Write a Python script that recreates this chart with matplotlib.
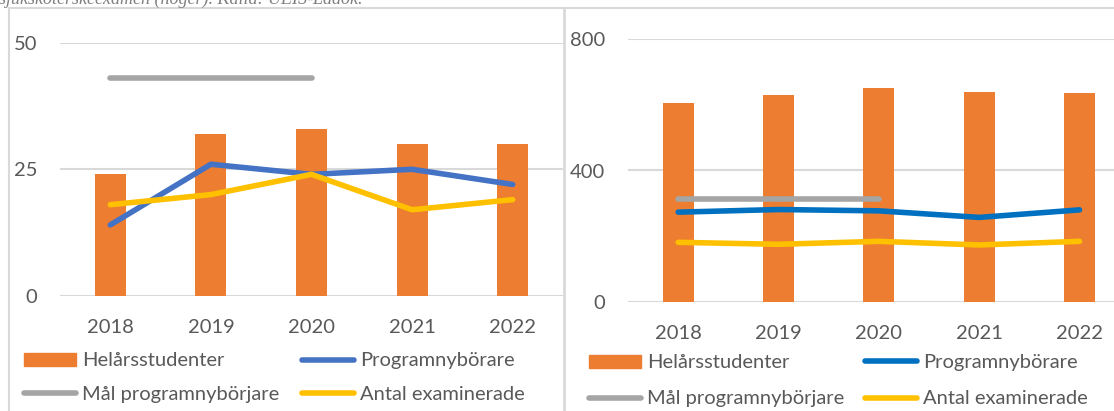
import numpy as np
import matplotlib.pyplot as plt
from matplotlib.lines import Line2D
from matplotlib.patches import Patch

plt.rcParams['font.family'] = ['Lato', 'DejaVu Sans']

# data
years = ['2018', '2019', '2020', '2021', '2022']

# left chart
left_hst = [24, 32, 33, 30, 30]
left_nyb = [14, 26, 24, 25, 22]
left_mal = [43, 43, 43, np.nan, np.nan]
left_exam = [18, 20, 24, 17, 19]
left_ticks = [0, 25, 50]

# right chart
right_hst = [606, 630, 652, 639, 636]
right_nyb = [273, 281, 277, 257, 280]
right_mal = [312, 312, 312, np.nan, np.nan]
right_exam = [181, 175, 184, 173, 184]
right_ticks = [0, 400, 800]

caption = 'sjuksköterskeexamen (höger). Källa: UEIS-Ladok.'

ORANGE = '#ED7D31'
GRAY = '#A5A5A5'
YELLOW = '#FFC000'
TXT = '#595959'
GRID = '#D9D9D9'
FS = 14.5

W, H = 1114, 411
fig = plt.figure(figsize=(W / 100, H / 100), dpi=100)


def px_axes(x0, x1, y_top, y_bot):
    return fig.add_axes([x0 / W, 1 - y_bot / H, (x1 - x0) / W, (y_bot - y_top) / H])


def draw_panel(ax, hst, nyb, mal, exam, ticks, blue):
    x = np.arange(len(years))
    ax.bar(x, hst, width=0.31, color=ORANGE, zorder=2, label='Helårsstudenter')
    lw = 4.0
    ax.plot(x, nyb, color=blue, lw=lw, solid_capstyle='round', solid_joinstyle='round', zorder=3)
    ax.plot(x, mal, color=GRAY, lw=lw, solid_capstyle='round', zorder=3)
    ax.plot(x, exam, color=YELLOW, lw=lw, solid_capstyle='round', solid_joinstyle='round', zorder=3)
    ax.set_xlim(-0.5, 4.5)
    ax.set_ylim(ticks[0], ticks[-1])
    ax.set_yticks(ticks)
    ax.set_xticks(x)
    ax.set_xticklabels(years)
    ax.grid(axis='y', color=GRID, lw=1.5, zorder=0)
    ax.set_axisbelow(True)
    for s in ax.spines.values():
        s.set_visible(False)
    ax.tick_params(axis='both', length=0, labelsize=FS, labelcolor=TXT)
    ax.tick_params(axis='y', pad=16.5)
    ax.tick_params(axis='x', pad=17)
    ax.patch.set_alpha(0)
    handles = [Patch(color=ORANGE),
               Line2D([], [], color=GRAY, lw=lw, solid_capstyle='round'),
               Line2D([], [], color=blue, lw=lw, solid_capstyle='round'),
               Line2D([], [], color=YELLOW, lw=lw, solid_capstyle='round')]
    labels = ['Helårsstudenter', 'Mål programnybörjare', 'Programnybörare', 'Antal examinerade']
    return handles, labels


ax1 = px_axes(60, 563, 42.9, 295.7)
h, l = draw_panel(ax1, left_hst, left_nyb, left_mal, left_exam, left_ticks, '#4472C4')
fig.legend(h, l, ncol=2, frameon=False, fontsize=FS, labelcolor=TXT,
           loc='center left', bbox_to_anchor=(24 / W, 1 - 377.5 / H),
           handlelength=2.6, handleheight=0.6, handletextpad=0.3,
           columnspacing=1.1, labelspacing=0.8, borderpad=0, borderaxespad=0)

ax2 = px_axes(628, 1129.7, 39.3, 301.7)
h, l = draw_panel(ax2, right_hst, right_nyb, right_mal, right_exam, right_ticks, '#0070C0')
fig.legend(h, l, ncol=2, frameon=False, fontsize=FS, labelcolor=TXT,
           loc='center left', bbox_to_anchor=(589 / W, 1 - 380.8 / H),
           handlelength=2.6, handleheight=0.6, handletextpad=0.3,
           columnspacing=1.0, labelspacing=0.95, borderpad=0, borderaxespad=0)

# panel borders
fig.add_artist(Line2D([9 / W, 9 / W], [0, 1 - 8 / H], color=GRID, lw=1.5))
fig.add_artist(Line2D([9 / W, 1], [1 - 8 / H, 1 - 8 / H], color=GRID, lw=1.5))
fig.add_artist(Line2D([564 / W, 564 / W], [0, 1 - 8 / H], color=GRID, lw=2))

# caption, cut off at the top as in the source
fig.text(-1 / W, 1 - 3.8 / H, caption, fontsize=13, style='italic', color='#7F7F7F',
         family=['Liberation Serif', 'DejaVu Serif'], va='baseline', ha='left')

fig.savefig('out.png', dpi=100)
